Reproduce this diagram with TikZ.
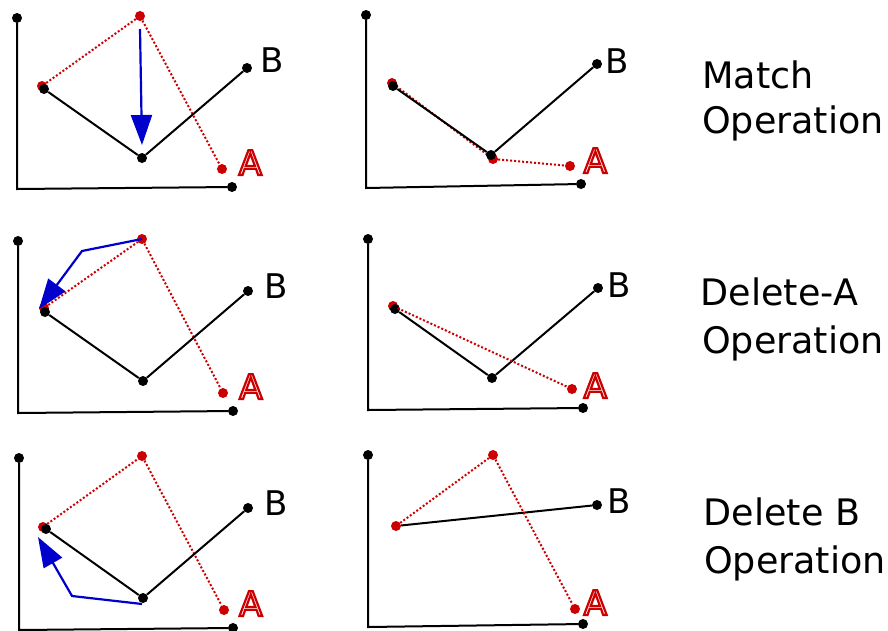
\documentclass[tikz,border=0pt]{standalone}
\usepackage{fontspec}
\setmainfont{DejaVu Sans}
\newfontfamily\hollowfont[FakeBold=6.5]{DejaVu Sans}
\usetikzlibrary{arrows.meta}
\definecolor{ared}{RGB}{204,0,0}
\definecolor{ablue}{RGB}{0,0,204}
\newcommand\hollowletter[1]{{\hollowfont\color{white}\special{pdf:code 0.8 0 0 RG}#1}\special{pdf:code 0 0 0 RG}}
\tikzset{
  ax/.style={line width=2pt, black},
  bl/.style={line width=2pt, black},
  rd/.style={line width=2pt, ared, dash pattern=on 2pt off 2pt},
  bdot/.style={circle, fill=black, inner sep=0pt, minimum size=10pt},
  rdot/.style={circle, fill=ared, inner sep=0pt, minimum size=10pt},
  barrow/.style={line width=2.2pt, ablue, -{Triangle[length=30pt,width=21pt]}},
  lab/.style={anchor=base west, inner sep=0pt, font=\fontsize{34}{40}\selectfont},
  op/.style={anchor=base west, inner sep=0pt, font=\fontsize{36.5}{42}\selectfont},
}
\begin{document}
\begin{tikzpicture}[x=1pt,y=-1pt]
\useasboundingbox (0,0) rectangle (888,630);
% ---------- Panel 1 ----------
\node[bdot] (p1y) at (17,18) {};
\node[bdot] (p1x) at (232,187) {};
\coordinate (p1o) at (17,189);
\draw[ax] (p1y) -- (p1o) -- (p1x);
\node[rdot] (p1rt) at (140,16) {};
\node[rdot] (p1rl) at (42,86) {};
\node[rdot] (p1ra) at (222,169) {};
\draw[rd] (p1rl) -- (p1rt) -- (p1ra);
\node[bdot] (p1bl) at (44,89) {};
\node[bdot] (p1bb) at (142,158) {};
\node[bdot] (p1bb2) at (247,68) {};
\draw[bl] (p1bl) -- (p1bb) -- (p1bb2);
\coordinate (p1as) at (140,29);
\coordinate (p1at) at (142,145);
\draw[barrow] (p1as) -- (p1at);
\node[lab] (p1B) at (260,72) {B};
\node[lab] (p1A) at (238.5,175) {\hollowletter{A}};
% ---------- Panel 2 ----------
\node[bdot] (p2y) at (366,15) {};
\node[bdot] (p2x) at (581,184) {};
\coordinate (p2o) at (366,188);
\draw[ax] (p2y) -- (p2o) -- (p2x);
\node[rdot] (p2rl) at (392,83) {};
\node[rdot] (p2rb) at (493,159) {};
\node[rdot] (p2ra) at (570,166) {};
\draw[rd] (p2rl) -- (p2rb) -- (p2ra);
\node[bdot] (p2bl) at (393,86) {};
\node[bdot] (p2bb) at (491,155) {};
\node[bdot] (p2bb2) at (597,64) {};
\draw[bl] (p2bl) -- (p2bb) -- (p2bb2);
\node[lab] (p2B) at (605,73) {B};
\node[lab] (p2A) at (583.5,173) {\hollowletter{A}};
% ---------- Panel 3 ----------
\node[bdot] (p3y) at (18,241) {};
\node[bdot] (p3x) at (233,411) {};
\coordinate (p3o) at (18,413);
\draw[ax] (p3y) -- (p3o) -- (p3x);
\node[rdot] (p3rt) at (142,239) {};
\node[rdot] (p3rl) at (44,308) {};
\node[rdot] (p3ra) at (223,393) {};
\draw[rd] (p3rl) -- (p3rt) -- (p3ra);
\node[bdot] (p3bl) at (45,312) {};
\node[bdot] (p3bb) at (143,381) {};
\node[bdot] (p3bb2) at (248,291) {};
\draw[bl] (p3bl) -- (p3bb) -- (p3bb2);
\coordinate (p3ak) at (82,251);
\coordinate (p3at) at (39,309);
\draw[barrow] (p3rt.center) -- (p3ak) -- (p3at);
\node[lab] (p3B) at (264,298) {B};
\node[lab] (p3A) at (239,399) {\hollowletter{A}};
% ---------- Panel 4 ----------
\node[bdot] (p4y) at (368,239) {};
\node[bdot] (p4x) at (583,408) {};
\coordinate (p4o) at (368,410);
\draw[ax] (p4y) -- (p4o) -- (p4x);
\node[rdot] (p4rl) at (393,306) {};
\node[rdot] (p4ra) at (572,389) {};
\node[bdot] (p4bl) at (395,309) {};
\node[bdot] (p4bb) at (492,378) {};
\node[bdot] (p4bb2) at (598,288) {};
\draw[bl] (p4bl) -- (p4bb) -- (p4bb2);
\draw[rd] (p4rl) -- (p4ra);
\node[lab] (p4B) at (607,297) {B};
\node[lab] (p4A) at (583.5,398) {\hollowletter{A}};
% ---------- Panel 5 ----------
\node[bdot] (p5y) at (19,458) {};
\node[bdot] (p5x) at (233,628) {};
\coordinate (p5o) at (19,630);
\draw[ax] (p5y) -- (p5o) -- (p5x);
\node[rdot] (p5rt) at (142,456) {};
\node[rdot] (p5rl) at (43,527) {};
\node[rdot] (p5ra) at (224,610) {};
\draw[rd] (p5rl) -- (p5rt) -- (p5ra);
\node[bdot] (p5bl) at (46,529) {};
\node[bdot] (p5bb) at (143,598) {};
\node[bdot] (p5bb2) at (248,508) {};
\draw[bl] (p5bl) -- (p5bb) -- (p5bb2);
\coordinate (p5as) at (142,604);
\coordinate (p5ak) at (72,596);
\coordinate (p5at) at (38,537);
\draw[barrow] (p5as) -- (p5ak) -- (p5at);
\node[lab] (p5B) at (264,515) {B};
\node[lab] (p5A) at (239,616) {\hollowletter{A}};
% ---------- Panel 6 ----------
\node[bdot] (p6y) at (368,455) {};
\node[bdot] (p6x) at (583,624) {};
\coordinate (p6o) at (368,627);
\draw[ax] (p6y) -- (p6o) -- (p6x);
\node[bdot] (p6bb2) at (597,505) {};
\node[rdot] (p6rl) at (396,526) {};
\node[rdot] (p6rt) at (493,455) {};
\node[rdot] (p6ra) at (575,609) {};
\draw[bl] (p6rl) -- (p6bb2);
\draw[rd] (p6rl) -- (p6rt) -- (p6ra);
\node[lab] (p6B) at (607,513) {B};
\node[lab] (p6A) at (583.5,615) {\hollowletter{A}};
% ---------- Labels ----------
\node[op] (t1a) at (702,88) {Match};
\node[op] (t1b) at (702,133) {Operation};
\node[op] (t2a) at (700.5,305) {Delete-A};
\node[op] (t2b) at (702,353) {Operation};
\node[op] (t3a) at (703.5,525) {Delete B};
\node[op] (t3b) at (704,573) {Operation};
\end{tikzpicture}
\end{document}
